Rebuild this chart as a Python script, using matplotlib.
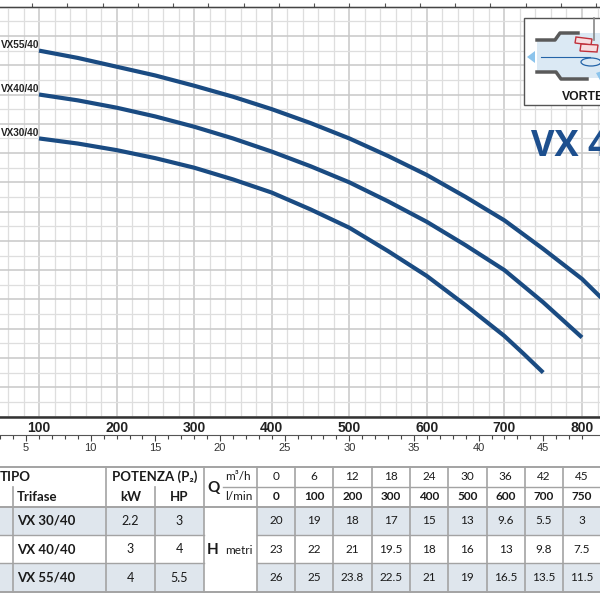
import matplotlib.pyplot as plt
from matplotlib.patches import Rectangle, Polygon, Ellipse

# Curve (portata l/min -> prevalenza m)
q30 = [100, 150, 200, 250, 300, 350, 400, 450, 500, 550, 600, 650, 700, 725, 750]
h30 = [19, 18.65, 18.2, 17.65, 17.0, 16.2, 15.3, 14.15, 12.9, 11.3, 9.6, 7.6, 5.5, 4.27, 3.0]
q40 = [100, 150, 200, 250, 300, 350, 400, 450, 500, 550, 600, 650, 700, 750, 800]
h40 = [22, 21.6, 21.1, 20.5, 19.8, 19.0, 18.1, 17.1, 16.0, 14.7, 13.3, 11.7, 10.0, 7.8, 5.4]
q55 = [100, 150, 200, 250, 300, 350, 400, 450, 500, 550, 600, 650, 700, 750, 800, 850]
h55 = [25, 24.5, 23.9, 23.3, 22.6, 21.85, 21.0, 20.05, 19.0, 17.8, 16.5, 15.0, 13.4, 11.45, 9.4, 6.8]
curve_names = ['VX30/40', 'VX40/40', 'VX55/40']

lmin_ticks = [100, 200, 300, 400, 500, 600, 700, 800]
m3h_ticks = [5, 10, 15, 20, 25, 30, 35, 40, 45]

# Tabella
tab_m3h = ['0', '6', '12', '18', '24', '30', '36', '42', '45']
tab_lmin = ['0', '100', '200', '300', '400', '500', '600', '700', '750']
tipo = ['VX 30/40', 'VX 40/40', 'VX 55/40']
kw = ['2.2', '3', '4']
hp = ['3', '4', '5.5']
h_rows = [['20', '19', '18', '17', '15', '13', '9.6', '5.5', '3'],
          ['23', '22', '21', '19.5', '18', '16', '13', '9.8', '7.5'],
          ['26', '25', '23.8', '22.5', '21', '19', '16.5', '13.5', '11.5']]

NARROW = ['Liberation Sans Narrow', 'Liberation Sans', 'DejaVu Sans']
TAB = ['Lato', 'Open Sans', 'DejaVu Sans']
BLUE = '#1a4b82'

fig = plt.figure(figsize=(6, 6), dpi=100)

# ---- grafico ----
ax = fig.add_axes([0, 1 - 416.5 / 600, 1, (416.5 - 6.7) / 600])
ax.set_xlim(49.7, 823.2)
ax.set_ylim(0, 28)
ax.set_xticks(lmin_ticks)
ax.set_xticks(range(60, 821, 20), minor=True)
ax.set_yticks(range(0, 29, 2))
ax.set_yticks(range(0, 29, 1), minor=True)
ax.grid(which='major', color='#c8c8c8', lw=1.1)
ax.grid(which='minor', color='#dedede', lw=0.9)
ax.set_axisbelow(True)
ax.tick_params(which='both', left=False, labelleft=False, length=0)
ax.tick_params(axis='x', pad=3, labelsize=10, colors='#222')
for lab in ax.get_xticklabels():
    lab.set_fontweight('bold')
    lab.set_family(NARROW)
for s in ['left', 'right']:
    ax.spines[s].set_visible(False)
ax.spines['bottom'].set_linewidth(1.8)
ax.spines['bottom'].set_color('#333333')
ax.spines['top'].set_linewidth(0.9)
ax.spines['top'].set_color('#444444')

for q, h, name in zip([q30, q40, q55], [h30, h40, h55], curve_names):
    ax.plot(q, h, color=BLUE, lw=3, solid_capstyle='butt', solid_joinstyle='round', zorder=3)
    ax.text(51, h[0] + 0.17, name, ha='left', va='baseline', fontsize=7.2,
            fontweight='bold', family=NARROW, color='#222')

# scala m3/h
sec = ax.secondary_xaxis(-0.045, functions=(lambda x: x * 0.06, lambda x: x / 0.06))
sec.set_xticks(m3h_ticks)
sec.set_xticks(range(1, 49), minor=True)
sec.tick_params(which='major', direction='out', length=4.5, width=0.8, color='#444',
                labelsize=8, pad=1, labelcolor='#333')
sec.tick_params(which='minor', direction='out', length=3, width=0.8, color='#444')
sec.spines['bottom'].set_linewidth(0.8)
sec.spines['bottom'].set_color('#555')
for lab in sec.get_xticklabels():
    lab.set_family(NARROW)

# scala superiore (Imp gpm), solo tacche
top = ax.secondary_xaxis('top', functions=(lambda x: x / 4.546, lambda x: x * 4.546))
top.set_xticks(range(0, 200, 10))
top.tick_params(direction='out', length=3, width=0.8, color='#555', labeltop=False)
top.spines['top'].set_linewidth(0.9)

# ---- overlay in pixel ----
ov = fig.add_axes([0, 0, 1, 1], zorder=5)
ov.set_xlim(0, 600)
ov.set_ylim(600, 0)
ov.axis('off')

# logo pompa
ov.add_patch(Rectangle((524, 18), 90, 87, fc='white', ec='#555', lw=1.0))
ov.add_patch(Polygon([(537, 41), (555, 41), (560, 33), (600, 33), (600, 78),
                      (561, 78), (556, 71), (537, 71)], fc='#dbe9f4', ec='none'))
ov.plot([537, 555, 560, 578], [40, 40, 33, 33], color='#5a5a5a', lw=2.5)
ov.plot([537, 556, 561, 587], [72, 72, 79, 79], color='#5a5a5a', lw=2.5)
ov.plot([594, 594], [18, 40], color='#888', lw=1.2)
ov.plot([541, 590], [57, 57], color='#2464a8', lw=0.8)
ov.add_patch(Polygon([(527, 57), (535, 51), (535, 63)], fc='#8cc4ec', ec='none'))
ov.add_patch(Polygon([(576, 37), (592, 39), (591, 45), (575, 43)], fc='#f7dde0', ec='#c0303a', lw=1))
ov.add_patch(Polygon([(581, 44), (598, 45), (597, 52), (580, 51)], fc='#f7dde0', ec='#c0303a', lw=1))
ov.add_patch(Ellipse((591, 62), 20, 8, fc='none', ec='#2464a8', lw=0.9))
ov.add_patch(Polygon([(596, 73), (602, 71), (601, 82)], fc='#8cc4ec', ec='none'))
ov.text(562, 97, 'VORTEX', ha='left', va='center', fontsize=8.8, fontweight='bold',
        family=NARROW, color='#1a1a1a')
ov.text(531, 147, 'VX 40/40', ha='left', va='center', fontsize=26, fontweight='bold',
        family=['Open Sans', 'DejaVu Sans'], color='#1d4f8e')

# tabella
col_x = [12.7, 106, 155, 204, 256.7, 295, 333, 371.5, 410, 448, 486.5, 525, 563, 601]
row_y = [466.7, 486.7, 506.7, 535, 563.3, 591.7]
grid_c = '#a3a3a3'
for i in (0, 2):
    ov.add_patch(Rectangle((-2, row_y[2 + i]), 206, row_y[3 + i] - row_y[2 + i], fc='#dfe6ed', ec='none'))
    ov.add_patch(Rectangle((256.7, row_y[2 + i]), 350, row_y[3 + i] - row_y[2 + i], fc='#dfe6ed', ec='none'))
for y in (row_y[0], row_y[2], row_y[5]):
    ov.plot([-2, 602], [y, y], color=grid_c, lw=1.4)
ov.plot([222.7, 602], [row_y[1], row_y[1]], color=grid_c, lw=1.0)
for y in (row_y[3], row_y[4]):
    ov.plot([-2, 204], [y, y], color=grid_c, lw=1.0)
    ov.plot([256.7, 602], [y, y], color=grid_c, lw=1.0)
ov.plot([12.7, 12.7], [row_y[1], row_y[5]], color=grid_c, lw=1.2)
ov.plot([155, 155], [row_y[1], row_y[5]], color=grid_c, lw=1.2)
for x in [106, 204] + col_x[4:-1]:
    ov.plot([x, x], [row_y[0], row_y[5]], color=grid_c, lw=1.2)

tk = dict(family=TAB, color='#1a1a1a', va='center')
ov.text(0, 477, 'TIPO', ha='left', fontsize=9.5, fontweight='bold', **tk)
ov.text(17, 497, 'Trifase', ha='left', fontsize=9.5, fontweight='bold', **tk)
ov.text(155, 477, 'POTENZA (P\u2082)', ha='center', fontsize=9.5, fontweight='bold', **tk)
ov.text(130.5, 497, 'kW', ha='center', fontsize=9.5, fontweight='bold', **tk)
ov.text(179.5, 497, 'HP', ha='center', fontsize=9.5, fontweight='bold', **tk)
ov.text(214, 488, 'Q', ha='center', fontsize=11, fontweight='bold', **tk)
ov.text(225, 477, 'm\u00b3/h', ha='left', fontsize=8.5, **tk)
ov.text(225, 497, 'l/min', ha='left', fontsize=8.5, **tk)
ov.text(213, 550, 'H', ha='center', fontsize=11, fontweight='bold', **tk)
ov.text(225, 550, 'metri', ha='left', fontsize=8.5, **tk)
for j in range(len(tab_m3h)):
    cx = (col_x[4 + j] + col_x[5 + j]) / 2
    ov.text(cx, 477, tab_m3h[j], ha='center', fontsize=8.5, **tk)
    ov.text(cx, 497, tab_lmin[j], ha='center', fontsize=8.5, fontweight='bold', **tk)
for i in range(3):
    cy = (row_y[2 + i] + row_y[3 + i]) / 2
    ov.text(17, cy, tipo[i], ha='left', fontsize=9.5, fontweight='bold', **tk)
    ov.text(130.5, cy, kw[i], ha='center', fontsize=9, **tk)
    ov.text(179.5, cy, hp[i], ha='center', fontsize=9, **tk)
    for j in range(len(tab_m3h)):
        cx = (col_x[4 + j] + col_x[5 + j]) / 2
        ov.text(cx, cy, h_rows[i][j], ha='center', fontsize=8.5, **tk)

fig.savefig('out.png', dpi=100)
